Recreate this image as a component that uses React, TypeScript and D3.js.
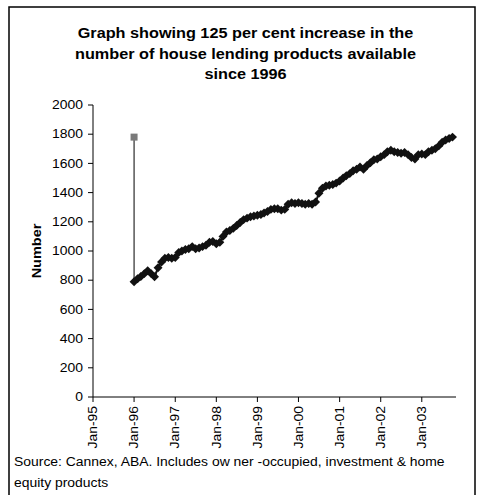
import React from "react";
import * as d3 from "d3";

// Monthly count of house lending products, Jan 1996 – Oct 2003
const startYear = 1996;
const productCounts = [
  790, 810, 825, 845, 865, 845, 824, 885, 925, 950, 955, 950,
  955, 990, 1000, 1010, 1015, 1030, 1015, 1020, 1030, 1040, 1060, 1065,
  1050, 1060, 1100, 1130, 1140, 1155, 1175, 1195, 1215, 1225, 1235, 1240,
  1245, 1250, 1260, 1270, 1285, 1290, 1290, 1280, 1285, 1320, 1330, 1325,
  1330, 1325, 1320, 1325, 1320, 1335, 1395, 1430, 1445, 1450, 1455, 1465,
  1480, 1500, 1515, 1530, 1550, 1560, 1575, 1560, 1585, 1605, 1625, 1630,
  1645, 1660, 1680, 1690, 1680, 1675, 1670, 1675, 1660, 1640, 1630, 1660,
  1665, 1660, 1680, 1690, 1700, 1720, 1745, 1760, 1770, 1780,
];
// Latest count, marked against the starting month
const latestMarker = 1780;

const yTicks = [0, 200, 400, 600, 800, 1000, 1200, 1400, 1600, 1800, 2000];
const xTickYears = [1995, 1996, 1997, 1998, 1999, 2000, 2001, 2002, 2003];

const titleLines = [
  "Graph showing 125 per cent increase in the",
  "number of house lending products available",
  "since 1996",
];
const sourceLines = [
  "Source: Cannex, ABA. Includes ow ner -occupied, investment & home",
  "equity products",
];

const W = 480;
const H = 495;
const font = "'Liberation Sans', Arial, sans-serif";
// glyphs are drawn slightly wide along the text direction
const widen = "scale(1.16,1)";

export default function App() {
  const x = d3
    .scaleTime()
    .domain([new Date(1995, 0, 1), new Date(2003, 10, 1)])
    .range([93, 456]);
  const y = d3.scaleLinear().domain([0, 2000]).range([397, 105]);

  const points = productCounts.map((v, i) => ({
    date: new Date(startYear, i, 1),
    value: v,
  }));

  const line = d3
    .line<{ date: Date; value: number }>()
    .x((d) => x(d.date))
    .y((d) => y(d.value));

  const marker = d3.symbol(d3.symbolSquare, 40)() as string;
  const first = points[0];

  return (
    <svg
      width={W}
      height={H}
      style={{ position: "absolute", left: 0, top: 0, background: "#fff" }}
      fontFamily={font}
    >
      <rect x={0} y={0} width={W} height={H} fill="#fff" />
      <rect x={9} y={7} width={466} height={520} fill="none" stroke="#000" strokeWidth={1.5} />

      {titleLines.map((t, i) => (
        <g key={t} transform={`translate(245.5,${38 + i * 20.5}) ${widen}`}>
          <text textAnchor="middle" fontSize={14} fontWeight="bold" fill="#000">
            {t}
          </text>
        </g>
      ))}

      {/* y axis */}
      <line x1={93} x2={93} y1={y(2000)} y2={y(0)} stroke="#000" strokeWidth={1} />
      {yTicks.map((t) => (
        <g key={t}>
          <line x1={88} x2={93} y1={y(t)} y2={y(t)} stroke="#000" />
          <g transform={`translate(83,${y(t)}) ${widen}`}>
            <text dy="0.35em" textAnchor="end" fontSize={12} fill="#000">
              {t}
            </text>
          </g>
        </g>
      ))}
      <g transform={`translate(40.5,${(y(0) + y(2000)) / 2}) rotate(-90) ${widen}`}>
        <text textAnchor="middle" fontSize={12.5} fontWeight="bold" fill="#000">
          Number
        </text>
      </g>

      {/* x axis */}
      <line x1={93} x2={456} y1={y(0)} y2={y(0)} stroke="#000" strokeWidth={1} />
      {xTickYears.map((yr) => {
        const px = x(new Date(yr, 0, 1));
        return (
          <g key={yr}>
            <line x1={px} x2={px} y1={y(0)} y2={y(0) + 5} stroke="#000" />
            <g transform={`translate(${px},${y(0) + 9}) rotate(-90) ${widen}`}>
              <text textAnchor="end" dy="0.35em" fontSize={12} fill="#000">
                {`Jan-${String(yr % 100).padStart(2, "0")}`}
              </text>
            </g>
          </g>
        );
      })}

      {/* drop line from the latest count down to the first month */}
      <line
        x1={x(first.date)}
        x2={x(first.date)}
        y1={y(latestMarker)}
        y2={y(first.value)}
        stroke="#000"
        strokeWidth={1}
      />
      <rect
        x={x(first.date) - 3.5}
        y={y(latestMarker) - 3.5}
        width={7}
        height={7}
        fill="#7a7a7a"
      />

      <path d={line(points) ?? ""} fill="none" stroke="#111" strokeWidth={2} />
      {points.map((p, i) => (
        <path
          key={i}
          d={marker}
          transform={`translate(${x(p.date)},${y(p.value)}) rotate(45)`}
          fill="#111"
        />
      ))}

      {sourceLines.map((t, i) => (
        <g key={t} transform={`translate(14,${466 + i * 21}) ${widen}`}>
          <text fontSize={12} fill="#000">
            {t}
          </text>
        </g>
      ))}
    </svg>
  );
}
